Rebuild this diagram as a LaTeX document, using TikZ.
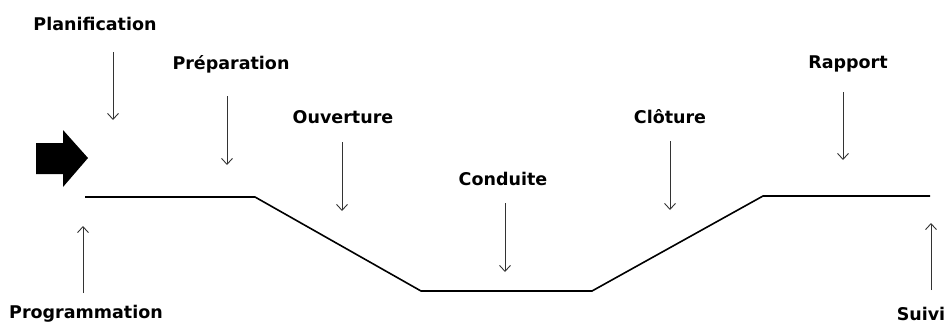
\documentclass[tikz,border=0pt]{standalone}
\usepackage{fontspec}
\setmainfont{DejaVu Sans}
\usetikzlibrary{arrows.meta}
\begin{document}
\begin{tikzpicture}[x=1pt,y=-1pt,
  lbl/.style={font=\fontsize{17.5}{19}\selectfont\bfseries, inner sep=0pt, anchor=center},
  arr/.style={draw=black!80, line width=0.8pt, -{Straight Barb[length=6pt,width=11pt,line width=0.9pt]}},
  path/.style={draw=black, line width=1.6pt, line join=miter}]
\useasboundingbox (0,0) rectangle (948,324);
% labels
\node[lbl] (plan) at (95,24) {Planification};
\node[lbl] (prep) at (231,64) {Préparation};
\node[lbl] (ouv) at (343,117) {Ouverture};
\node[lbl] (cond) at (503,179) {Conduite};
\node[lbl] (clot) at (670,117) {Clôture};
\node[lbl] (rapp) at (848,64) {Rapport};
\node[lbl] (prog) at (86,314) {Programmation};
\node[lbl] (suiv) at (921,314) {Suivi};
% arrow ends
\coordinate (planA) at (113,52);  \coordinate (planB) at (113,120);
\coordinate (prepA) at (227,96);  \coordinate (prepB) at (227,165);
\coordinate (ouvA) at (342,142);  \coordinate (ouvB) at (342,211);
\coordinate (condA) at (505,203); \coordinate (condB) at (505,272);
\coordinate (clotA) at (670,141); \coordinate (clotB) at (670,210);
\coordinate (rappA) at (843,92);  \coordinate (rappB) at (843,160);
\coordinate (progA) at (83,293);  \coordinate (progB) at (83,226);
\coordinate (suivA) at (931,290); \coordinate (suivB) at (931,223);
\foreach \n in {plan,prep,ouv,cond,clot,rapp,prog,suiv}
  \draw[arr] (\n A) -- (\n B);
% process line
\coordinate (p1) at (85,197);
\coordinate (p2) at (255,197);
\coordinate (p3) at (421,291);
\coordinate (p4) at (592,291);
\coordinate (p5) at (763,196);
\coordinate (p6) at (930,196);
\draw[path] (p1) -- (p2) -- (p3) -- (p4) -- (p5) -- (p6);
% block arrow
\fill[black] (36,143) -- (63,143) -- (63,130) -- (88,158) -- (63,187) -- (63,174) -- (36,174) -- cycle;
\end{tikzpicture}
\end{document}
